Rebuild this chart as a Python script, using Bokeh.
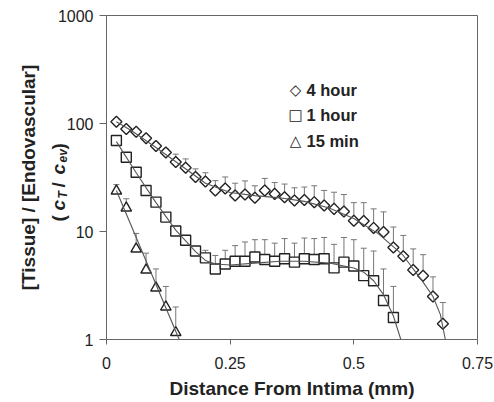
import numpy as np
from bokeh.plotting import figure
from bokeh.models import (Range1d, FixedTicker, Whisker, TeeHead, ColumnDataSource,
                          Label, LinearAxis)
from bokeh.embed import file_html
from bokeh.resources import INLINE

# ---------------- data ----------------
series_names = ["4 hour", "1 hour", "15 min"]

x_4h = [0.02, 0.04, 0.06, 0.08, 0.10, 0.12, 0.14, 0.16, 0.18, 0.20, 0.22, 0.24,
        0.26, 0.28, 0.30, 0.32, 0.34, 0.36, 0.38, 0.40, 0.42, 0.44, 0.46, 0.48,
        0.50, 0.52, 0.54, 0.56, 0.58, 0.60, 0.62, 0.64, 0.66, 0.68]
y_4h = [104, 89, 84, 73, 62, 54, 44, 39, 32, 29, 24, 25, 21.5, 22, 20.5, 24,
        22.3, 20.8, 19.4, 19.6, 18.7, 17.4, 16.2, 15.3, 12.6, 12.5, 10.8, 9.9,
        7.1, 5.9, 4.4, 3.9, 2.5, 1.4]
top_4h = [108, 93, 88, 77, 67, 58, 52, 47, 38, 35, 29.6, 32, 28, 29.4, 26.5, 31,
          28.4, 27.5, 25.4, 25.8, 26.5, 24, 23.1, 22, 18.5, 18.5, 16.2, 15.2,
          11, 9.2, 6.9, 6.1, 3.8, 2.2]

x_1h = [0.02, 0.04, 0.06, 0.08, 0.10, 0.12, 0.14, 0.16, 0.18, 0.20, 0.22, 0.24,
        0.26, 0.28, 0.30, 0.32, 0.34, 0.36, 0.38, 0.40, 0.42, 0.44, 0.46, 0.48,
        0.50, 0.52, 0.54, 0.56, 0.58]
y_1h = [69.6, 48.7, 35.4, 24, 18.7, 13.6, 10.1, 8.3, 6.6, 5.7, 4.5, 5.0, 5.3,
        5.3, 5.8, 5.5, 5.3, 5.6, 5.2, 5.6, 5.5, 5.6, 4.6, 5.2, 4.8, 3.9, 3.5,
        2.3, 1.6]
top_1h = [73, 51, 37, 25.5, 19.8, 14.5, 10.8, 8.9, 7.2, 6.7, 6.0, 6.7, 7.4,
          8.0, 8.4, 8.4, 7.8, 8.6, 7.8, 8.7, 8.6, 8.8, 7.6, 8.8, 8.4, 7.0, 6.6,
          4.5, 3.1]

x_15m = [0.02, 0.04, 0.06, 0.08, 0.10, 0.12, 0.14]
y_15m = [23.7, 16.5, 6.9, 4.4, 3.0, 2.0, 1.16]
top_15m = [27.2, 20.1, 9.6, 6.3, 4.5, 3.1, 2.0]

# fitted model curves
fit_x_4h = [0.02, 0.05, 0.10, 0.15, 0.20, 0.25, 0.30, 0.35, 0.40, 0.45, 0.50,
            0.55, 0.60, 0.62, 0.64, 0.66, 0.675, 0.685]
fit_y_4h = [104, 86, 60, 41, 28, 23, 21.5, 20.5, 19, 16.5, 13.2, 9.5, 6.0, 4.5,
            3.4, 2.5, 1.7, 1.0]
fit_x_1h = [0.02, 0.06, 0.10, 0.14, 0.18, 0.20, 0.22, 0.25, 0.30, 0.35, 0.40,
            0.45, 0.50, 0.52, 0.54, 0.56, 0.58, 0.595]
fit_y_1h = [68, 35, 18.5, 10.3, 6.5, 5.4, 5.0, 4.9, 5.1, 5.3, 5.3, 5.1, 4.6,
            4.2, 3.5, 2.6, 1.65, 1.0]
fit_x_15m = [0.02, 0.147]
fit_y_15m = [24, 1.0]

x_ticks = [0, 0.25, 0.5, 0.75]
x_tick_labels = ["0", "0.25", "0.5", "0.75"]
y_ticks = [1, 10, 100, 1000]
y_tick_labels = ["1", "10", "100", "1000"]

x_title = "Distance From Intima (mm)"
y_title = "[Tissue] / [Endovascular]"

# ---------------- layout constants ----------------
W, H = 494, 402
BOX_L, BOX_R, BOX_T, BOX_B = 106, 477, 15, 339      # plot box in page pixels
FONT = "Liberation Sans"
INK = "#222222"
AX = "#666666"

# The frame covers the whole canvas (so that labels are never clipped);
# the axes are pinned to the data box with fixed_location / bounds.
px_per_x = (BOX_R - BOX_L) / (x_ticks[-1] - x_ticks[0])
px_per_dec = (BOX_B - BOX_T) / np.log10(y_ticks[-1] / y_ticks[0])
x_lo = x_ticks[0] - BOX_L / px_per_x
x_hi = x_ticks[-1] + (W - BOX_R) / px_per_x
y_lo = y_ticks[0] / 10 ** ((H - BOX_B) / px_per_dec)
y_hi = y_ticks[-1] * 10 ** (BOX_T / px_per_dec)

p = figure(width=W, height=H, output_backend="svg", toolbar_location=None,
           x_range=Range1d(x_lo, x_hi), y_range=Range1d(y_lo, y_hi),
           y_axis_type="log",
           min_border_left=0, min_border_right=0, min_border_top=0,
           min_border_bottom=0)
p.xgrid.visible = False
p.ygrid.visible = False
p.outline_line_color = None
p.background_fill_color = "white"
p.border_fill_color = "white"

for ax in (p.xaxis[0], p.yaxis[0]):
    ax.axis_line_color = AX
    ax.major_tick_line_color = AX
    ax.minor_tick_line_color = None
    ax.major_tick_in = 0
    ax.major_label_text_font = FONT
    ax.major_label_text_font_size = "16px"
    ax.major_label_text_color = INK

p.xaxis.ticker = FixedTicker(ticks=x_ticks)
p.xaxis.bounds = (x_ticks[0], x_ticks[-1])
p.xaxis.fixed_location = y_ticks[0]
p.xaxis.major_label_overrides = dict(zip(x_ticks, x_tick_labels))
p.xaxis.major_tick_out = 5
p.xaxis.major_label_standoff = 12

p.yaxis.ticker = FixedTicker(ticks=y_ticks)
p.yaxis.bounds = (y_ticks[0], y_ticks[-1])
p.yaxis.fixed_location = x_ticks[0]
p.yaxis.major_label_overrides = dict(zip(y_ticks, y_tick_labels))
p.yaxis.major_tick_out = 7
p.yaxis.major_label_standoff = 6

# top and right border lines of the plot box
for side, bounds, loc in (("above", (x_ticks[0], x_ticks[-1]), y_ticks[-1]),
                          ("right", (y_ticks[0], y_ticks[-1]), x_ticks[-1])):
    b = LinearAxis(ticker=FixedTicker(ticks=[]), bounds=bounds, fixed_location=loc,
                   axis_line_color=AX, major_tick_line_color=None,
                   minor_tick_line_color=None, major_label_text_font_size="0px")
    p.add_layout(b, side)

# error bars (upper only)
for xs, ys, tops in ((x_4h, y_4h, top_4h), (x_1h, y_1h, top_1h), (x_15m, y_15m, top_15m)):
    src = ColumnDataSource(dict(x=xs, y=ys, top=tops))
    p.add_layout(Whisker(source=src, base="x", lower="y", upper="top",
                         dimension="height", line_color="#777777", line_width=1,
                         lower_head=None,
                         upper_head=TeeHead(size=6, line_color="#777777", line_width=1),
                         level="underlay"))

# markers
p.scatter(x_4h, y_4h, marker="square", angle=np.pi / 4, size=7.8,
          fill_color="white", line_color=INK, line_width=1.4)
p.scatter(x_1h, y_1h, marker="square", size=10,
          fill_color="white", line_color=INK, line_width=1.4)
p.scatter(x_15m, y_15m, marker="triangle", size=10.5,
          fill_color="white", line_color=INK, line_width=1.4)

# fitted curves
for fx, fy in ((fit_x_4h, fit_y_4h), (fit_x_1h, fit_y_1h), (fit_x_15m, fit_y_15m)):
    p.line(fx, fy, line_color="#555555", line_width=1.1)

def lab(text, x, y_from_top, **kw):
    """Label in page pixels (frame == canvas, screen y counted from bottom)."""
    base = dict(x_units="screen", y_units="screen", text_font=FONT, text_color=INK)
    base.update(kw)
    p.add_layout(Label(x=x, y=H - y_from_top, text=text, **base))

# axis titles
lab(x_title, (BOX_L + BOX_R) / 2, 388, text_align="center", text_baseline="middle",
    text_font_size="19px", text_font_style="bold")
lab(y_title, 28, (BOX_T + BOX_B) / 2, angle=np.pi / 2, text_align="center",
    text_baseline="middle", text_font_size="19px", text_font_style="bold")

# second line of the y title: (c_T / c_ev)
pieces = [("(", 58, 221, "19px", "bold"),
          ("c", 58, 210, "19px", "bold italic"),
          ("T", 62, 198, "12px", "bold italic"),
          ("/", 58, 187, "19px", "bold"),
          ("c", 58, 174, "19px", "bold italic"),
          ("ev", 62, 162, "12px", "bold italic"),
          (")", 58, 149, "19px", "bold")]
for txt, sx, sy, fs, st in pieces:
    lab(txt, sx, sy, angle=np.pi / 2, text_align="left", text_baseline="alphabetic",
        text_font_size=fs, text_font_style=st)

# legend (symbol + label)
symbols = ["\u25c7", "\u25a1", "\u25b3"]
rows_y = [89, 114, 140]
for sym, name, ry in zip(symbols, series_names, rows_y):
    lab(sym, 295, ry, text_align="center", text_baseline="middle",
        text_font="DejaVu Sans", text_font_size="15px")
    lab(name, 306, ry, text_align="left", text_baseline="middle",
        text_font_size="16.5px", text_font_style="bold")

open("out.html", "w").write(file_html(p, INLINE))
